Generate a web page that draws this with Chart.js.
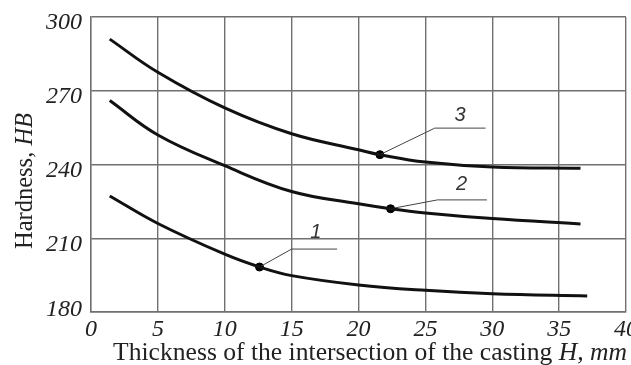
<!DOCTYPE html>
<html><head><meta charset="utf-8">
<script src="https://cdn.jsdelivr.net/npm/chart.js@4"></script>
<style>html,body{margin:0;padding:0;background:#fff}</style>
</head><body>
<canvas id="c" width="631" height="365"></canvas>
<script>
// ---- data ----
const xTicks = [0, 5, 10, 15, 20, 25, 30, 35, 40];
const yTicks = [180, 210, 240, 270, 300];

const curve1X = [1.4, 5, 10, 12.6, 15, 20, 25, 30, 37.1];
const curve1Y = [227.2, 216, 203.5, 198.3, 194.8, 191, 188.8, 187.4, 186.5];
const curve2X = [1.4, 5, 10, 15, 20, 22.4, 25, 30, 36.6];
const curve2Y = [266, 252, 239.5, 229, 224, 222, 220.3, 218, 215.8];
const curve3X = [1.4, 5, 10, 15, 20, 21.6, 25, 30, 36.6];
const curve3Y = [291, 277.5, 263, 252.5, 246, 244, 241, 239, 238.5];

const markerX = [12.6, 22.4, 21.6];
const markerY = [198.3, 222, 244];

const curveNames = ['1', '2', '3'];
const leaderKneeX = [15.0, 25.9, 25.7];
const leaderKneeY = [205.6, 225.6, 254.8];
const leaderEndX = [18.4, 29.6, 29.5];
const nameX = [16.8, 27.7, 27.6];
const nameY = [212.5, 231.7, 260.1];

const xTitleParts = [['Thickness of the intersection of the casting ', false], ['H, mm', true]];
const yTitleParts = [['Hardness, ', false], ['HB', true]];

// ---- build ----
const pts = (xs, ys) => xs.map((x, i) => ({x, y: ys[i]}));
const curveDs = (xs, ys) => ({
  data: pts(xs, ys), showLine: true, borderColor: '#111', borderWidth: 3,
  pointRadius: 0, tension: 0.4, fill: false
});
const leaderDs = [0, 1, 2].map(i => ({
  data: [{x: markerX[i], y: markerY[i]}, {x: leaderKneeX[i], y: leaderKneeY[i]}, {x: leaderEndX[i], y: leaderKneeY[i]}],
  showLine: true, borderColor: '#444', borderWidth: 1, pointRadius: 0, tension: 0, fill: false
}));

const SERIF = '"Liberation Serif", "Times New Roman", serif';

function drawParts(ctx, parts, size) {
  let total = 0;
  const widths = parts.map(([t, it]) => {
    ctx.font = (it ? 'italic ' : '') + size + 'px ' + SERIF;
    const w = ctx.measureText(t).width; total += w; return w;
  });
  let x = -total / 2;
  parts.forEach(([t, it], i) => {
    ctx.font = (it ? 'italic ' : '') + size + 'px ' + SERIF;
    ctx.fillText(t, x, 0); x += widths[i];
  });
}

const textPlugin = {
  id: 'texts',
  afterDraw(chart) {
    const ctx = chart.ctx, xs = chart.scales.x, ys = chart.scales.y, ca = chart.chartArea;
    ctx.save();
    ctx.fillStyle = '#222';
    ctx.font = 'italic 24px ' + SERIF;
    ctx.textAlign = 'center'; ctx.textBaseline = 'middle';
    xTicks.forEach(v => ctx.fillText(String(v), xs.getPixelForValue(v), 330));
    ctx.textAlign = 'right';
    yTicks.forEach(v => {
      const py = Math.min(ys.getPixelForValue(v) + 6, ca.bottom - 2);
      ctx.fillText(String(v), ca.left - 9, py);
    });
    // curve names
    ctx.fillStyle = '#333';
    ctx.font = 'italic 20px "Liberation Sans", Arial, sans-serif';
    ctx.textAlign = 'center';
    curveNames.forEach((n, i) => ctx.fillText(n, xs.getPixelForValue(nameX[i]), ys.getPixelForValue(nameY[i])));
    // titles
    ctx.fillStyle = '#222';
    ctx.textAlign = 'left'; ctx.textBaseline = 'alphabetic';
    ctx.save();
    ctx.translate(370, 360);
    drawParts(ctx, xTitleParts, 25.6);
    ctx.restore();
    ctx.save();
    ctx.translate(32, 181);
    ctx.rotate(-Math.PI / 2);
    drawParts(ctx, yTitleParts, 24.5);
    ctx.restore();
    ctx.restore();
  }
};

new Chart(document.getElementById('c'), {
  type: 'scatter',
  data: {
    datasets: [
      curveDs(curve1X, curve1Y), curveDs(curve2X, curve2Y), curveDs(curve3X, curve3Y),
      ...leaderDs,
      { data: pts(markerX, markerY), pointRadius: 4, pointBackgroundColor: '#000', pointBorderColor: '#000', showLine: false }
    ]
  },
  options: {
    responsive: false, animation: false, devicePixelRatio: 1,
    layout: { padding: { left: 91, right: 5, top: 17, bottom: 53 } },
    plugins: { legend: { display: false }, tooltip: { enabled: false } },
    scales: {
      x: {
        type: 'linear', min: xTicks[0], max: xTicks[xTicks.length - 1],
        ticks: { display: false, stepSize: xTicks[1] - xTicks[0] },
        grid: { color: '#707070', lineWidth: 1.4, drawTicks: false },
        border: { color: '#707070', width: 1.4 }
      },
      y: {
        type: 'linear', min: yTicks[0], max: yTicks[yTicks.length - 1],
        ticks: { display: false, stepSize: yTicks[1] - yTicks[0] },
        grid: { color: '#707070', lineWidth: 1.4, drawTicks: false },
        border: { color: '#707070', width: 1.4 }
      }
    }
  },
  plugins: [textPlugin]
});
</script>
</body></html>
